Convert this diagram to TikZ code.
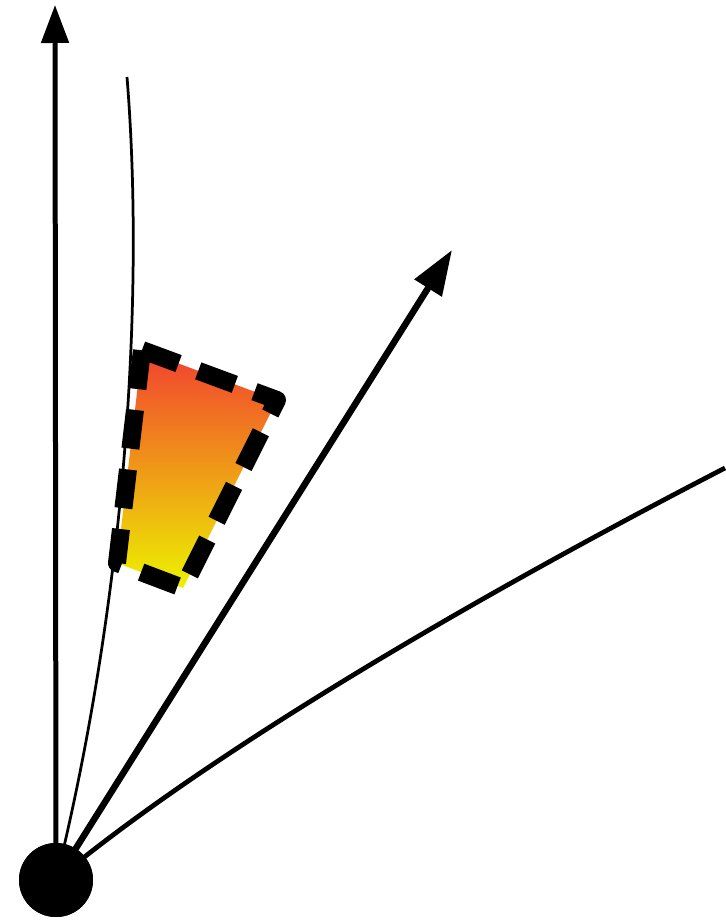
\documentclass[tikz,border=0pt]{standalone}
\usepackage{xcolor}
\definecolor{flamered}{RGB}{242, 64, 48}
\definecolor{sunyellow}{RGB}{236, 242, 0}
\usetikzlibrary{arrows.meta}
\tikzset{
  srcdot/.style={circle,fill=black,inner sep=0pt,minimum size=1.48cm},
  axisline/.style={line width=0.1cm,-{Triangle[length=0.76cm,width=0.54cm]}},
  mainline/.style={line width=0.13cm,-{Triangle[length=0.9cm,width=0.62cm]}},
  thinline/.style={line width=0.055cm},
  sweepline/.style={line width=0.095cm},
  regionline/.style={line width=0.36cm,dash pattern=on 0.78cm off 0.42cm,
    line join=round,line cap=butt}
}

\begin{document}
\begin{tikzpicture}[x=0.02cm,y=-0.02cm]
  \useasboundingbox (0,0) rectangle (725,920);
  \coordinate (uptip) at (55,5);
  \coordinate (midtip) at (452,250);
  \coordinate (thinend) at (127,77);
  \coordinate (farend) at (725,468);
  \coordinate (rtl) at (142,350);
  \coordinate (rtr) at (277,400);
  \coordinate (rbr) at (183,588);
  \coordinate (rbl) at (117,563);
  \node[srcdot] (src) at (56,880) {};

  % rays out of the source
  \draw[axisline] (src.center) -- (uptip);
  \draw[thinline] (src.center) .. controls (125,600) and (145,300) .. (thinend);
  \draw[sweepline] (src.center) .. controls (200,760) and (450,610) .. (farend);
  \draw[mainline] (src.center) -- (midtip);

  % shaded region
  \path[top color=flamered,bottom color=sunyellow]
    (rtl) -- (rtr) -- (rbr) -- (rbl) -- cycle;
  \draw[regionline] (rtl) -- (rtr) -- (rbr) -- (rbl) -- cycle;

  \node[srcdot] at (src) {};
\end{tikzpicture}
\end{document}
